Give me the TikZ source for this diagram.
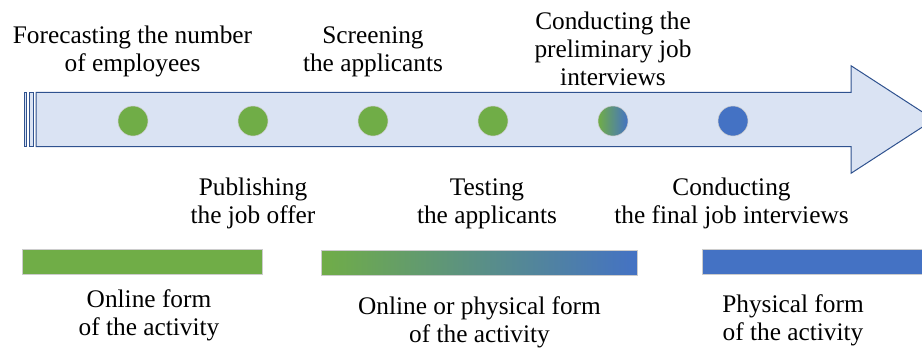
\documentclass[tikz,border=0pt]{standalone}
\usepackage{fontspec}
\setmainfont{Liberation Serif}
\usetikzlibrary{positioning}
\definecolor{stepgreen}{RGB}{112,173,71}
\definecolor{stepblue}{RGB}{68,114,196}
\definecolor{arrowfill}{RGB}{218,227,243}
\definecolor{arrowline}{RGB}{47,82,143}

\begin{document}
\begin{tikzpicture}[x=0.75pt,y=-0.75pt]
\tikzstyle{body}=[fill=arrowfill, draw=arrowline, line width=0.75pt]
\tikzstyle{stage}=[circle, minimum size=22.5pt, inner sep=0pt, draw=black!20, line width=0.4pt]
\tikzstyle{formbar}=[rectangle, minimum height=18.75pt, inner sep=0pt, draw=black!20, line width=0.6pt]
\tikzstyle{txt}=[align=center, anchor=north, inner sep=0pt, font=\fontsize{19}{21}\selectfont]
\clip (0,0) rectangle (922,347);
% timeline arrow
\draw[body] (36,92.3) -- (851,92.3) -- (851,65.7) -- (934,119.5) -- (851,173.3)
	-- (851,146.7) -- (36,146.7) -- cycle;
\draw[body] (24.3,92.3) rectangle (26.7,146.7);
\draw[body] (29,92.3) rectangle (33.3,146.7);
% stages
	\node[stage, fill=stepgreen] (s_1) at (133,121) {};
	\node[stage, fill=stepgreen] (s_2) at (253,121) {};
	\node[stage, fill=stepgreen] (s_3) at (373,121) {};
	\node[stage, fill=stepgreen] (s_4) at (493,121) {};
	\node[stage, left color=stepgreen, right color=stepblue] (s_5) at (613,121) {};
	\node[stage, fill=stepblue] (s_6) at (733,121) {};
% stage texts
	\node[txt] (t_1) at (132.5,26) {Forecasting the number\\of employees};
	\node[txt] (t_2) at (253,178) {Publishing\\the job offer};
	\node[txt] (t_3) at (373,26) {Screening\\the applicants};
	\node[txt] (t_4) at (487,178) {Testing\\the applicants};
	\node[txt] (t_5) at (613,12) {Conducting the\\preliminary job\\interviews};
	\node[txt] (t_6) at (731.5,178) {Conducting\\the final job interviews};
% forms of the activity
	\node[formbar, fill=stepgreen, minimum width=180pt] (f_1) at (142,262) {};
	\node[formbar, left color=stepgreen, right color=stepblue, minimum width=237pt] (f_2) at (479,262.5) {};
	\node[formbar, fill=stepblue, minimum width=180pt] (f_3) at (822,262) {};
	\node[txt] (l_1) at (149,289) {Online form\\of the activity};
	\node[txt] (l_2) at (479.5,296) {Online or physical form\\of the activity};
	\node[txt] (l_3) at (793,294) {Physical form\\of the activity};
\end{tikzpicture}
\end{document}
